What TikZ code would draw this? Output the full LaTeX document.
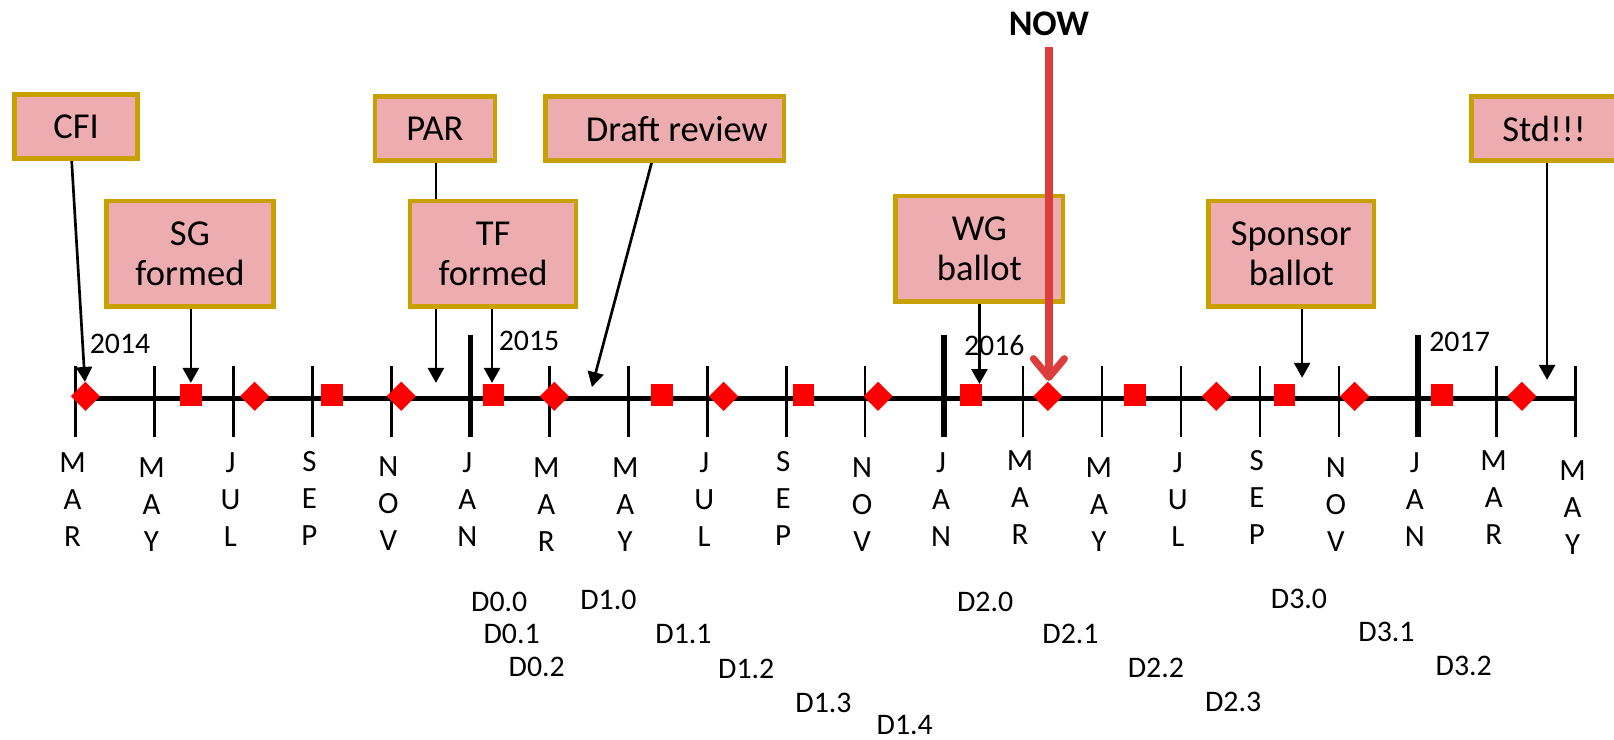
\documentclass[tikz,border=0pt]{standalone}
\usepackage{fontspec}
\setmainfont{Carlito}
\usetikzlibrary{arrows.meta,shapes.geometric}
\definecolor{boxfill}{RGB}{237,173,176}
\definecolor{boxline}{RGB}{200,160,0}
\definecolor{nowred}{RGB}{220,62,62}
\definecolor{markred}{RGB}{255,0,0}
\pgfdeclarelayer{bg}
\pgfsetlayers{bg,main}
\begin{document}
\begin{tikzpicture}[x=1pt,y=-1pt,
 evbox/.style={draw=boxline, fill=boxfill, line width=4.5pt, align=center, inner sep=0pt, font=\fontsize{35.5}{39}\selectfont},
 onebox/.style={evbox, minimum height=62pt},
 twobox/.style={evbox, minimum height=102.5pt},
 arr/.style={line width=2.6pt, -{Triangle[length=14.5pt,width=15.5pt]}},
 dia/.style={diamond, fill=markred, inner sep=0pt, minimum width=28.5pt, minimum height=28.5pt},
 sq/.style={rectangle, fill=markred, inner sep=0pt, minimum size=21pt},
 monthlbl/.style={font=\fontsize{30}{36}\selectfont, inner sep=0pt, anchor=base},
 yearlbl/.style={font=\fontsize{29}{34}\selectfont, inner sep=0pt},
 draftlbl/.style={font=\fontsize{29}{34}\selectfont, inner sep=0pt},
 nowlbl/.style={font=\bfseries\fontsize{35}{40}\selectfont, inner sep=0pt},
 tickline/.style={line width=2.5pt},
 yeartick/.style={line width=5.5pt},
 axisline/.style={line width=5pt},
 nowarr/.style={draw=nowred, line width=7pt, -{Straight Barb[length=18pt,width=30pt,round]}}]
\useasboundingbox (0,0) rectangle (1568,718);

% axis and ticks
\coordinate (axl) at (73.5,387);
\coordinate (axr) at (1530.8,387);
\draw[axisline] (axl) -- (axr);
\foreach \i in {0,...,19} {
  \pgfmathsetmacro\xx{73.5+76.7*\i}
  \draw[tickline] (\xx,355.6) -- (\xx,424.5);
}
\foreach \i in {5,11,17} {
  \pgfmathsetmacro\xx{73.5+76.7*\i}
  \draw[yeartick] (\xx,325) -- (\xx,424.5);
}

% markers
\foreach \xx [count=\k] in {83,247.4,389.8,538.5,703,853,1018,1181.6,1316,1478.5}
  \node[dia] (dm\k) at (\xx,385) {};
\foreach \xx [count=\k] in {185.6,322.7,479.5,643.3,780.7,943.4,1102.9,1247.8,1400.7}
  \node[sq] (sm\k) at (\xx,384) {};

% year labels
\node[yearlbl] (y14) at (116.6,334) {2014};
\node[yearlbl] (y15) at (514,331) {2015};
\node[yearlbl] (y16) at (966,336) {2016};
\node[yearlbl] (y17) at (1418,332) {2017};

% month labels
\foreach \i/\a/\b/\c/\yy in {0/M/A/R/449, 1/M/A/Y/454, 2/J/U/L/449, 3/S/E/P/448, 4/N/O/V/453,
  5/J/A/N/449, 6/M/A/R/454, 7/M/A/Y/454, 8/J/U/L/449, 9/S/E/P/448, 10/N/O/V/454,
  11/J/A/N/449, 12/M/A/R/447, 13/M/A/Y/454, 14/J/U/L/449, 15/S/E/P/447, 16/N/O/V/454,
  17/J/A/N/449, 18/M/A/R/447, 19/M/A/Y/457} {
  \pgfmathsetmacro\xx{73.5+76.7*\i-3}
  \node[monthlbl] (m\i-1) at (\xx,\yy+9.7) {\a};
  \node[monthlbl] (m\i-2) at (\xx,\yy+45.9) {\b};
  \node[monthlbl] (m\i-3) at (\xx,\yy+82.1) {\c};
}

% draft labels
\node[draftlbl] (d00) at (485,585) {D0.0};
\node[draftlbl] (d01) at (497,616) {D0.1};
\node[draftlbl] (d02) at (521.5,648) {D0.2};
\node[draftlbl] (d10) at (591,583) {D1.0};
\node[draftlbl] (d11) at (664,616) {D1.1};
\node[draftlbl] (d12) at (725,650) {D1.2};
\node[draftlbl] (d13) at (800,683) {D1.3};
\node[draftlbl] (d14) at (879,704) {D1.4};
\node[draftlbl] (d20) at (957,585) {D2.0};
\node[draftlbl] (d21) at (1040,616) {D2.1};
\node[draftlbl] (d22) at (1123,649) {D2.2};
\node[draftlbl] (d23) at (1198,682) {D2.3};
\node[draftlbl] (d30) at (1262,582) {D3.0};
\node[draftlbl] (d31) at (1347,614) {D3.1};
\node[draftlbl] (d32) at (1422,647) {D3.2};

% event boxes
\node[onebox, minimum width=119.5pt] (cfi) at (74,122.7) {CFI};
\node[twobox, minimum width=162.5pt] (sg) at (184.5,246.5) {SG\\formed};
\node[onebox, minimum width=116.5pt] (par) at (422.5,125) {PAR};
\node[twobox, minimum width=161.5pt] (tf) at (479,246.5) {TF\\formed};
\node[onebox, minimum width=231.5pt] (draft) at (646,125) {\hspace*{23pt}Draft review};
\node[twobox, minimum width=162.5pt] (wg) at (951.5,241.5) {WG\\ballot};
\node[twobox, minimum width=160.5pt] (sponsor) at (1254.5,246.5) {Sponsor\\ballot};
\node[onebox, minimum width=141.5pt] (std) at (1500,125) {Std!!!};

% arrow end points
\coordinate (cfiend) at (82.5,371);
\coordinate (sgend) at (185.4,372);
\coordinate (parend) at (423.5,372);
\coordinate (tfend) at (478,372);
\coordinate (draftend) at (575,376);
\coordinate (wgend) at (951.5,373);
\coordinate (spend) at (1265,367);
\coordinate (stdend) at (1503,369);

\begin{pgfonlayer}{bg}
\draw[arr] ([xshift=-4.4pt]cfi.south) -- (cfiend);
\draw[arr] ([xshift=0.9pt]sg.south) -- (sgend);
\draw[arr] ([xshift=1pt]par.south) -- (parend);
\draw[arr] ([xshift=-1pt]tf.south) -- (tfend);
\draw[arr] ([xshift=-13pt]draft.south) -- (draftend);
\draw[arr] (wg.south) -- (wgend);
\draw[arr] ([xshift=10.5pt]sponsor.south) -- (spend);
\draw[arr] ([xshift=3pt]std.south) -- (stdend);
\end{pgfonlayer}

% NOW
\node[nowlbl] (now) at (1019,23.4) {NOW};
\coordinate (nowtop) at (1019,45.5);
\coordinate (nowend) at (1019,370);
\draw[nowarr] (nowtop) -- (nowend);
\end{tikzpicture}
\end{document}
